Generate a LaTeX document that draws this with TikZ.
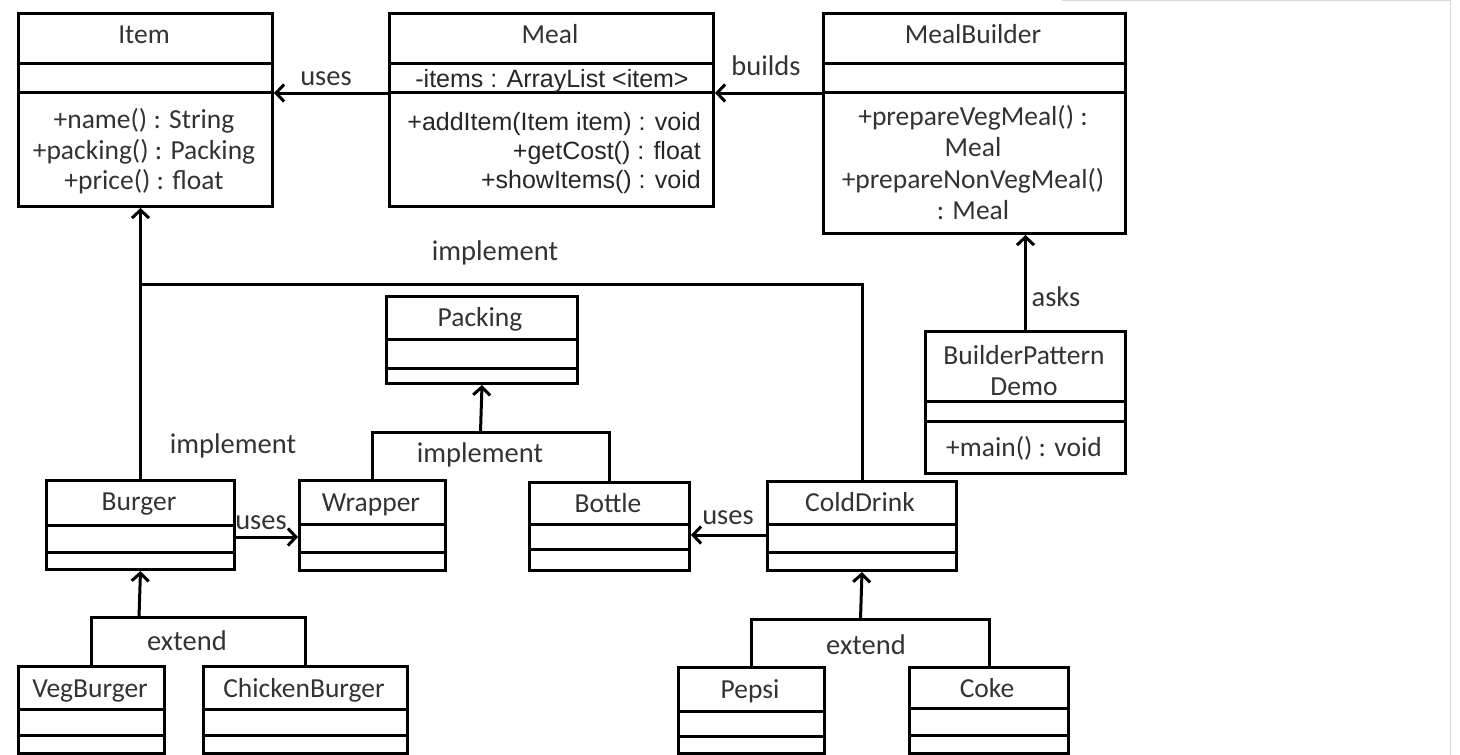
\documentclass[tikz,border=0pt]{standalone}
\usepackage{fontspec}
\setmainfont{Carlito}
\newfontfamily\arialf{Liberation Sans}
\usetikzlibrary{arrows.meta}
\newcommand\umlbox[7]{%
  \node[box, anchor=north west, minimum width={(#4-#2)*1pt}, minimum height={(#5-#3)*1pt}] (#1) at (#2,#3) {};
  \draw[sepl] (#1.west |- 0,#6) -- (#1.east |- 0,#6);
  \draw[sepl] (#1.west |- 0,#7) -- (#1.east |- 0,#7);}
\begin{document}
\begin{tikzpicture}[x=1pt,y=-1pt,
  box/.style={draw=black, line width=3pt, inner sep=0pt},
  sepl/.style={line width=3pt},
  conn/.style={line width=3pt},
  arr/.style={conn, -{Straight Barb[length=8pt,width=17pt,line width=3pt]}},
  txt/.style={inner sep=0pt, anchor=base, text=black!80, font=\fontsize{27.5}{32}\selectfont},
  lbl/.style={inner sep=0pt, anchor=base, text=black!80, font=\fontsize{28.5}{32}\selectfont},
  ar/.style={inner sep=0pt, anchor=base east, text=black!85, font=\arialf\fontsize{25}{29}\selectfont},
  frame/.style={draw=blue!10!black!15, line width=1pt}]
\useasboundingbox (0,0) rectangle (1460,755);
\draw[frame] (1062,0.5) -- (1450,0.5) -- (1450,755);

% boxes
\umlbox{item}{17}{12}{271}{205}{63}{92}
\umlbox{meal}{388}{12}{712}{205}{63}{92}
\umlbox{mb}{822}{12}{1124}{232}{63}{92}
\umlbox{bpd}{924}{330}{1124}{472}{401}{421}
\umlbox{packing}{385}{295}{576}{382}{339}{368}
\umlbox{burger}{45}{479}{233}{568}{525}{552}
\umlbox{wrapper}{298}{479}{444}{569}{524}{552}
\umlbox{bottle}{528}{481}{688}{569}{524}{549}
\umlbox{cold}{766}{480}{955}{569}{524}{552}
\umlbox{veg}{17}{665}{163}{752}{709}{735}
\umlbox{chicken}{202}{665}{406}{752}{709}{735}
\umlbox{pepsi}{677}{666}{823}{752}{711}{736}
\umlbox{coke}{908}{666}{1067}{752}{708}{735}

% texts
\node[txt] (itemT) at (144,43) {Item};
\node[txt] (itemM1) at (144,128) {+name() : String};
\node[txt] (itemM2) at (144,159) {+packing() : Packing};
\node[txt] (itemM3) at (144,189) {+price() : float};

\node[txt] (mealT) at (550,43) {Meal};
\node[ar, anchor=base] (mealA) at (552,87) {-items : ArrayList <item>};
\node[ar] (mealM1) at (701,130) {+addItem(Item item) : void};
\node[ar] (mealM2) at (701,159) {+getCost() : float};
\node[ar] (mealM3) at (701,188) {+showItems() : void};

\node[txt] (mbT) at (973,43) {MealBuilder};
\node[txt] (mbM1) at (973,125) {+prepareVegMeal() :};
\node[txt] (mbM2) at (973,156) {Meal};
\node[txt] (mbM3) at (973,188) {+prepareNonVegMeal()};
\node[txt] (mbM4) at (973,219) {: Meal};

\node[txt] (bpdT1) at (1024,364) {BuilderPattern};
\node[txt] (bpdT2) at (1024,395) {Demo};
\node[txt] (bpdM) at (1024,456) {+main() : void};

\node[txt] (packT) at (480,326) {Packing};
\node[txt] (burgT) at (139,510) {Burger};
\node[txt] (wrapT) at (371,511) {Wrapper};
\node[txt] (botT) at (608,512) {Bottle};
\node[txt] (coldT) at (860,511) {ColdDrink};
\node[txt] (vegT) at (90,697) {VegBurger};
\node[txt] (chkT) at (304,697) {ChickenBurger};
\node[txt] (pepT) at (750,698) {Pepsi};
\node[txt] (cokT) at (987,697) {Coke};

% connectors
\draw[arr] ([yshift=-81pt]meal.north west) -- ([yshift=-81pt]item.north east);
\draw[arr] ([yshift=-81pt]mb.north west) -- ([yshift=-81pt]meal.north east);
\draw[arr] (bpd.north) -- (bpd.north |- mb.south);

\coordinate (j1) at (139,284);
\draw[arr] (burger.north) -- (burger.north |- item.south);
\draw[conn] (cold.north) |- (j1);

\coordinate (j2) at (480.5,432);
\draw[conn] (wrapper.north) |- (j2) -| (bottle.north);
\draw[arr] (j2) -- (packing.south);

\draw[arr] ([yshift=-58pt]burger.north east) -- ([yshift=-58pt]wrapper.north west);
\draw[arr] ([yshift=-55pt]cold.north west) -- ([yshift=-54pt]bottle.north east);

\coordinate (j3) at (139,617);
\draw[conn] (veg.north) |- (j3) -| (chicken.north);
\draw[arr] (j3) -- (burger.south);

\coordinate (j4) at (860.5,619);
\draw[conn] (pepsi.north) |- (j4) -| (coke.north);
\draw[arr] (j4) -- (cold.south);

% labels
\node[lbl] (l1) at (326,85) {uses};
\node[lbl] (l2) at (766,75) {builds};
\node[lbl] (l3) at (1056,306) {asks};
\node[lbl] (l4) at (495,260) {implement};
\node[lbl] (l5) at (233,453) {implement};
\node[lbl] (l6) at (480,462) {implement};
\node[lbl] (l7) at (261,529) {uses};
\node[lbl] (l8) at (728,524) {uses};
\node[lbl] (l9) at (187,650) {extend};
\node[lbl] (l10) at (866,654) {extend};
\end{tikzpicture}
\end{document}
